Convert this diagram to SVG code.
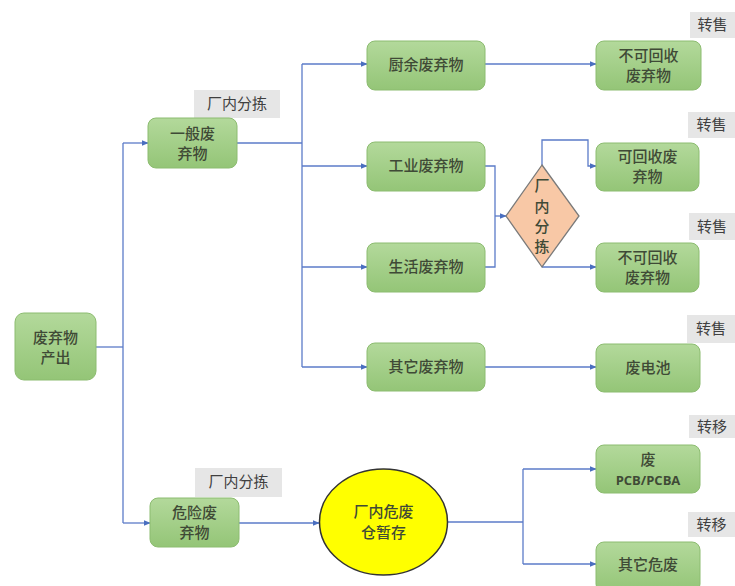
<svg xmlns="http://www.w3.org/2000/svg" width="735" height="586" viewBox="0 0 735 586">
<defs>
<linearGradient id="g" x1="0" y1="0" x2="0" y2="1">
<stop offset="0" stop-color="#b3d99b"/>
<stop offset="1" stop-color="#94c577"/>
</linearGradient>
<marker id="arr" viewBox="0 0 10 10" refX="9" refY="5" markerWidth="7" markerHeight="7" orient="auto" markerUnits="userSpaceOnUse">
<path d="M0,1 L10,5 L0,9 z" fill="#4a6fc0"/>
</marker>
<style>
.n{fill:url(#g);stroke:#8cbc70;stroke-width:1}
.t{font-family:"Noto Sans CJK SC","Noto Sans",sans-serif;font-size:15px;fill:#3f4a36;text-anchor:middle;font-weight:500}
.lb{fill:#e6e6e6}
.lt{font-family:"Noto Sans CJK SC","Noto Sans",sans-serif;font-size:15px;fill:#404040;text-anchor:middle}
.c{fill:none;stroke:#5b7bc8;stroke-width:1.3}
</style>
</defs>
<rect width="735" height="586" fill="#ffffff"/>

<g id="connectors">
<path class="c" d="M96,347 H123"/>
<path class="c" d="M123,143 V523"/>
<path class="c" d="M123,143 H148" marker-end="url(#arr)"/>
<path class="c" d="M123,523 H150" marker-end="url(#arr)"/>
<path class="c" d="M237,143 H302"/>
<path class="c" d="M302,64 V367"/>
<path class="c" d="M302,64 H367" marker-end="url(#arr)"/>
<path class="c" d="M302,166 H367" marker-end="url(#arr)"/>
<path class="c" d="M302,267 H367" marker-end="url(#arr)"/>
<path class="c" d="M302,367 H367" marker-end="url(#arr)"/>
<path class="c" d="M485,64 H596" marker-end="url(#arr)"/>
<path class="c" d="M485,367 H596" marker-end="url(#arr)"/>
<path class="c" d="M485,166 H495 V267 H485"/>
<path class="c" d="M495,216 H506" marker-end="url(#arr)"/>
<path class="c" d="M542,165 V140 H588 V166 H596" marker-end="url(#arr)"/>
<path class="c" d="M542,267 H596" marker-end="url(#arr)"/>
<path class="c" d="M239,523 H319" marker-end="url(#arr)"/>
<path class="c" d="M447,522 H523"/>
<path class="c" d="M523,469 V564"/>
<path class="c" d="M523,469 H596" marker-end="url(#arr)"/>
<path class="c" d="M523,564 H596" marker-end="url(#arr)"/>
</g>

<g id="n-source">
<rect class="n" x="15" y="313" width="81" height="67" rx="9"/>
<text class="t" x="55.5" y="343">废弃物</text>
<text class="t" x="55.5" y="363">产出</text>
</g>

<g id="n-general">
<rect class="lb" x="194" y="90" width="86" height="28"/>
<text class="lt" x="237" y="109">厂内分拣</text>
<rect class="n" x="148" y="118" width="89" height="50" rx="8"/>
<text class="t" x="192.5" y="139">一般废</text>
<text class="t" x="192.5" y="159">弃物</text>
</g>

<g id="n-hazard">
<rect class="lb" x="195" y="468" width="87" height="29"/>
<text class="lt" x="238.5" y="487">厂内分拣</text>
<rect class="n" x="150" y="498" width="89" height="49" rx="8"/>
<text class="t" x="194.5" y="518">危险废</text>
<text class="t" x="194.5" y="538">弃物</text>
</g>

<g id="n-kitchen">
<rect class="n" x="367" y="41" width="118" height="49" rx="8"/>
<text class="t" x="426" y="70">厨余废弃物</text>
</g>

<g id="n-industrial">
<rect class="n" x="367" y="142" width="118" height="49" rx="8"/>
<text class="t" x="426" y="171">工业废弃物</text>
</g>

<g id="n-domestic">
<rect class="n" x="367" y="243" width="118" height="49" rx="8"/>
<text class="t" x="426" y="272">生活废弃物</text>
</g>

<g id="n-other">
<rect class="n" x="367" y="343" width="118" height="48" rx="8"/>
<text class="t" x="426" y="372">其它废弃物</text>
</g>

<g id="n-sort">
<polygon points="542,165 579,216 542,267 506,216" fill="#f8c8a6" stroke="#7a7a7a" stroke-width="1.3"/>
<text class="t" x="542" y="191">厂</text>
<text class="t" x="542" y="212">内</text>
<text class="t" x="542" y="232">分</text>
<text class="t" x="542" y="252">拣</text>
</g>

<g id="n-nonrec1">
<rect class="lb" x="690" y="12" width="45" height="26"/>
<text class="lt" x="712.5" y="30">转售</text>
<rect class="n" x="596" y="41" width="105" height="49" rx="8"/>
<text class="t" x="648.5" y="61">不可回收</text>
<text class="t" x="648.5" y="81">废弃物</text>
</g>

<g id="n-rec">
<rect class="lb" x="688" y="112" width="47" height="26"/>
<text class="lt" x="711.5" y="130">转售</text>
<rect class="n" x="596" y="143" width="103" height="48" rx="8"/>
<text class="t" x="647.5" y="162">可回收废</text>
<text class="t" x="647.5" y="182">弃物</text>
</g>

<g id="n-nonrec2">
<rect class="lb" x="689" y="213" width="46" height="27"/>
<text class="lt" x="712" y="232">转售</text>
<rect class="n" x="596" y="243" width="103" height="49" rx="8"/>
<text class="t" x="647.5" y="263">不可回收</text>
<text class="t" x="647.5" y="283">废弃物</text>
</g>

<g id="n-battery">
<rect class="lb" x="687" y="315" width="48" height="28"/>
<text class="lt" x="711" y="334">转售</text>
<rect class="n" x="596" y="344" width="104" height="48" rx="8"/>
<text class="t" x="648" y="373">废电池</text>
</g>

<g id="n-storage">
<ellipse cx="383.5" cy="522" rx="64" ry="53" fill="#ffff00" stroke="#333333" stroke-width="1.5"/>
<text class="t" x="383.5" y="517" fill="#333">厂内危废</text>
<text class="t" x="383.5" y="538" fill="#333">仓暂存</text>
</g>

<g id="n-pcb">
<rect class="lb" x="689" y="415" width="46" height="23"/>
<text class="lt" x="712" y="432">转移</text>
<rect class="n" x="596" y="445" width="104" height="48" rx="8"/>
<text class="t" x="648" y="465">废</text>
<text x="648" y="485" font-family="'Open Sans','Liberation Sans',sans-serif" font-size="13" font-weight="bold" fill="#3f4a36" text-anchor="middle">PCB/PCBA</text>
</g>

<g id="n-otherhaz">
<rect class="lb" x="688" y="512" width="47" height="25"/>
<text class="lt" x="711.5" y="530">转移</text>
<rect class="n" x="596" y="542" width="104" height="50" rx="8"/>
<text class="t" x="648" y="570">其它危废</text>
</g>
</svg>
